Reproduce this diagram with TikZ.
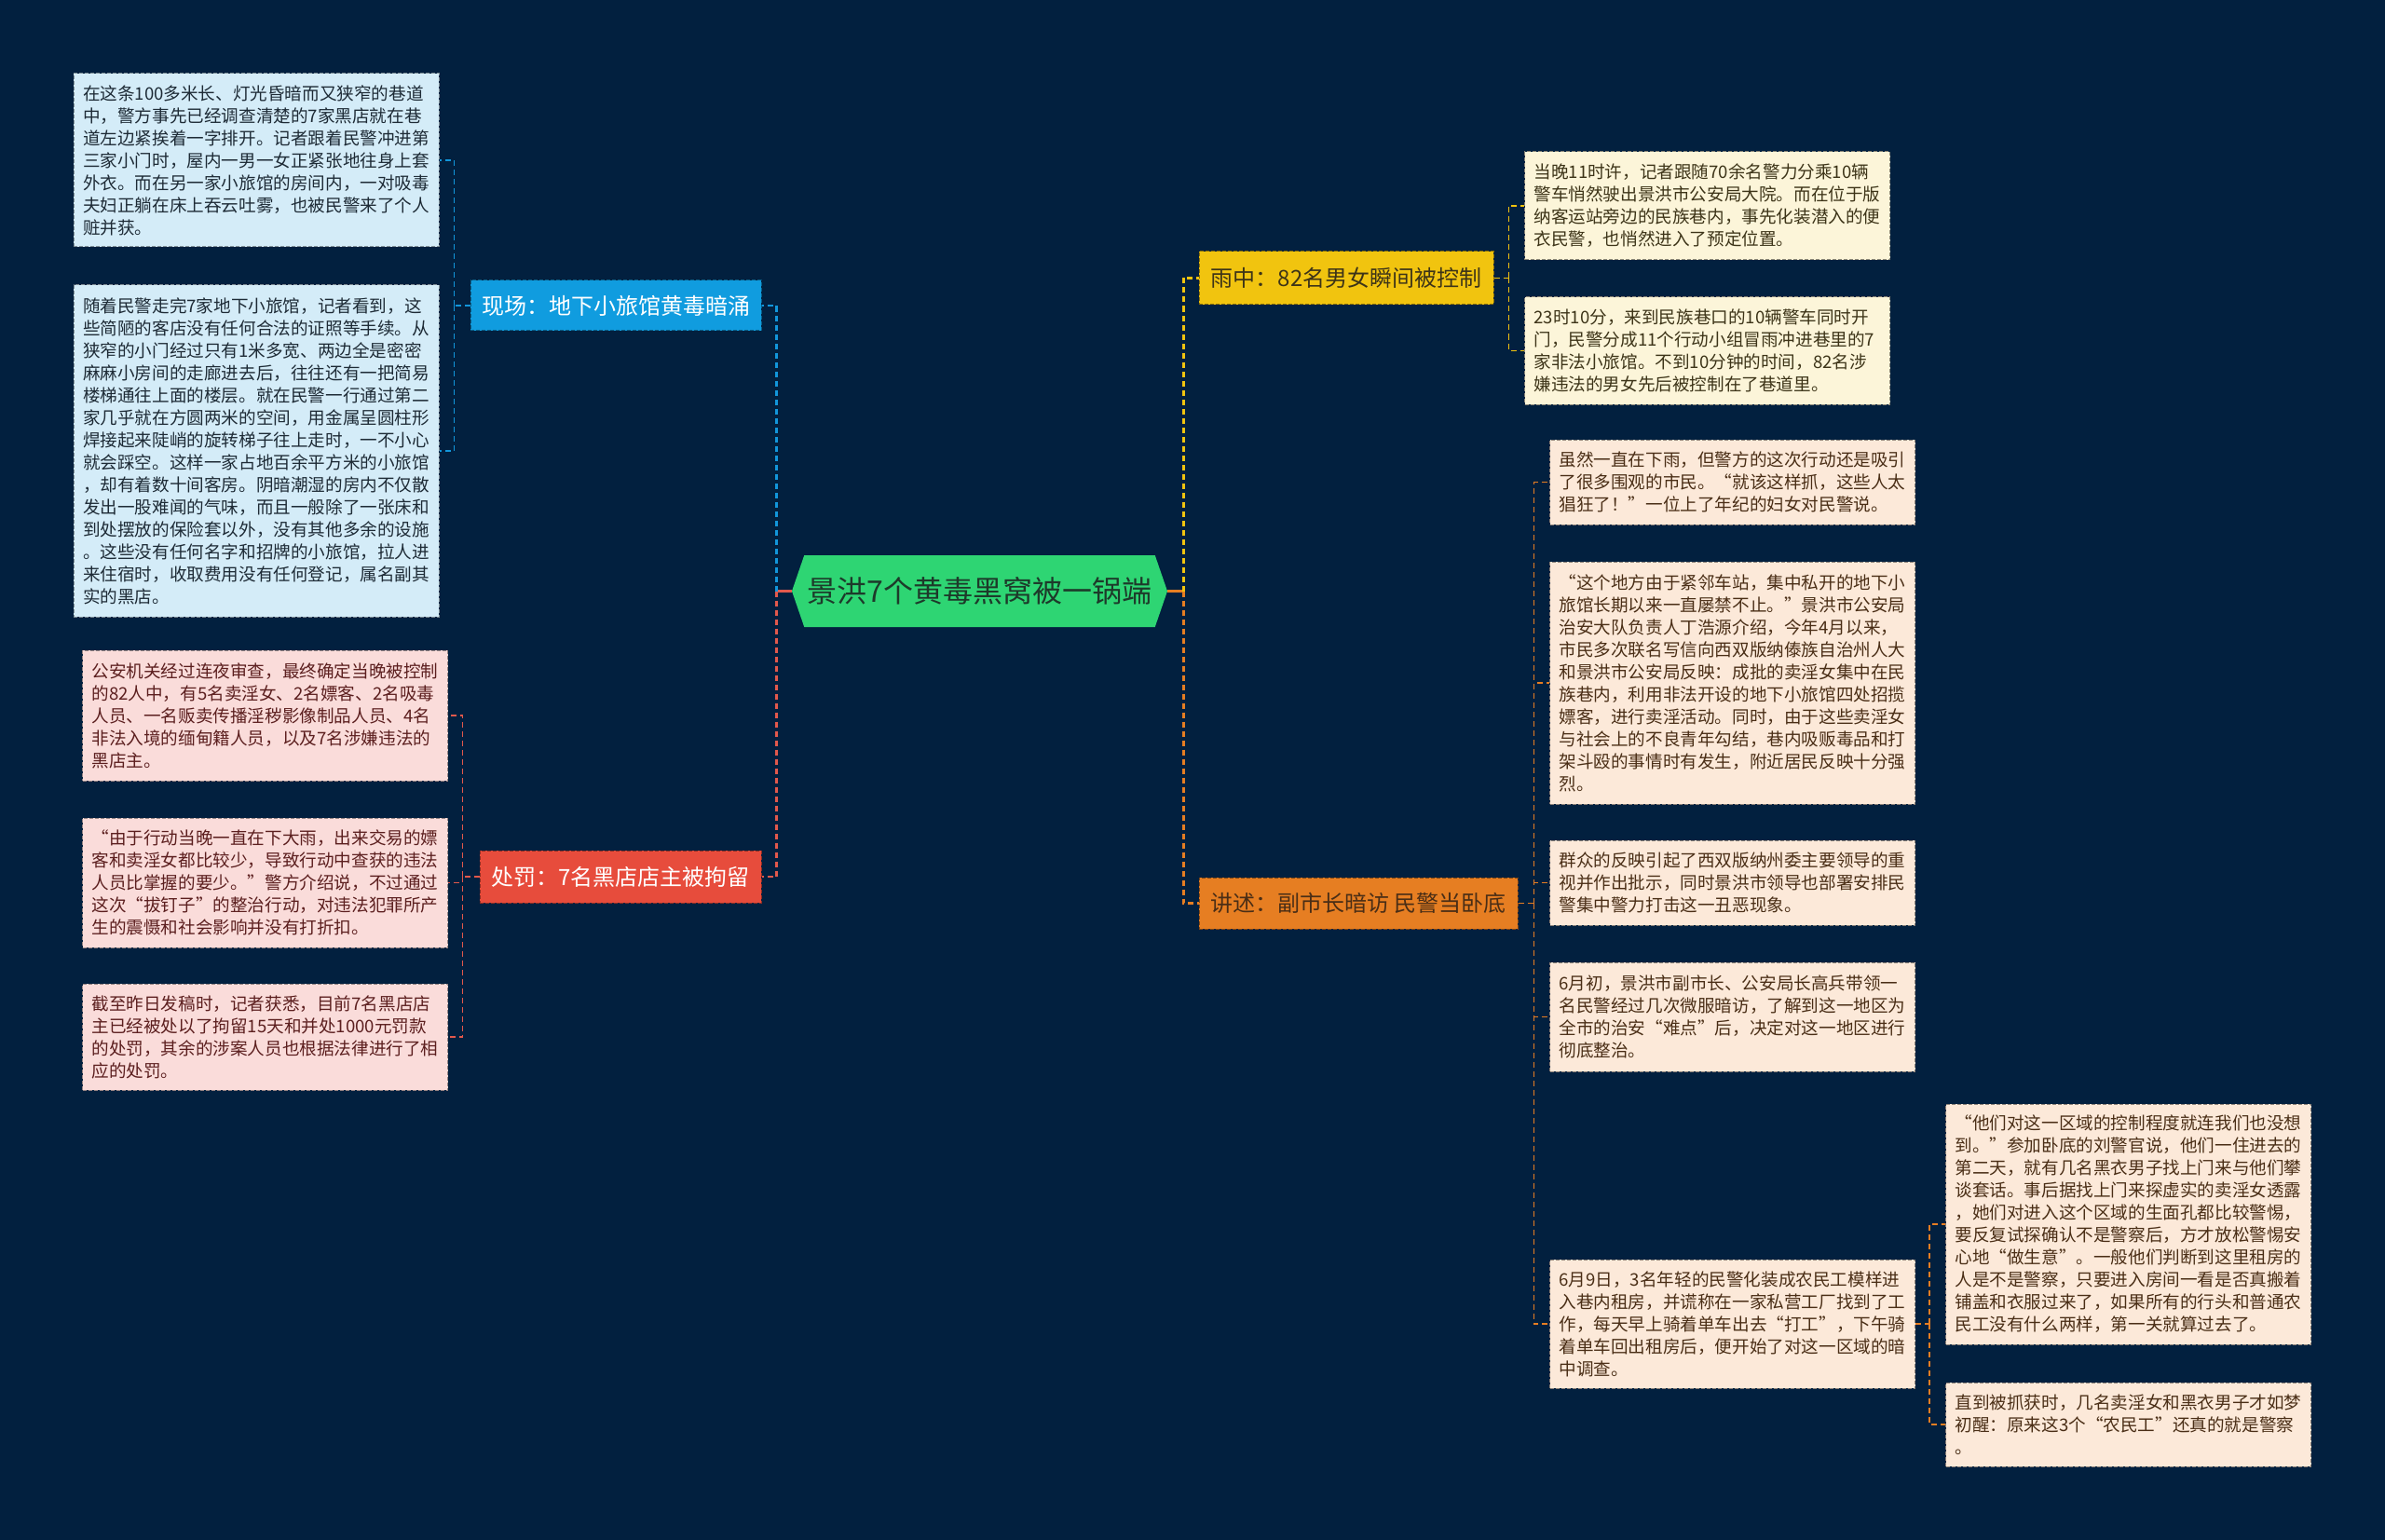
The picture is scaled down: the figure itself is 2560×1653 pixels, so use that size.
\documentclass[tikz,border=0pt]{standalone}
\usepackage{fontspec}
\usepackage{xcolor}
\usepackage{tikz}
\usetikzlibrary{positioning,shapes.symbols}
\newfontfamily\zhfont{Noto Sans CJK SC}
\definecolor{bgnavy}{HTML}{02203F}
\definecolor{fillhub}{HTML}{2ED573}
\definecolor{texthub}{HTML}{1D3A2A}
\definecolor{fillscene}{HTML}{109CDF}
\definecolor{fillpenalty}{HTML}{E74C3C}
\definecolor{fillrain}{HTML}{F1C40F}
\definecolor{fillstory}{HTML}{E67E22}
\definecolor{notescene}{HTML}{D4ECF8}
\definecolor{notepenalty}{HTML}{FADCDA}
\definecolor{noterain}{HTML}{FCF5D9}
\definecolor{notestory}{HTML}{FCE9D9}
\definecolor{textscene}{HTML}{1E2B36}
\definecolor{textpenalty}{HTML}{5C1F1F}
\definecolor{textrain}{HTML}{3D3418}
\definecolor{textstory}{HTML}{4A2E16}
\definecolor{linescene}{HTML}{1296DB}
\definecolor{linepenalty}{HTML}{E2594C}
\definecolor{linerain}{HTML}{F1C40F}
\definecolor{linestory}{HTML}{E67E22}
\tikzset{
  hub/.style={signal, signal to=east and west, signal pointer angle=142, fill=fillhub,
    text=texthub, inner sep=0pt, minimum width=201.5pt, minimum height=38.5pt,
    font=\zhfont\fontsize{16pt}{19pt}\selectfont},
  branch/.style={dash pattern=on 2pt off 1pt, line width=0.5pt, inner sep=0pt,
    font=\zhfont\fontsize{12pt}{14pt}\selectfont},
  notebox/.style={dash pattern=on 2pt off 1pt, line width=0.5pt, align=left,
    text width=186pt, inner xsep=5pt, inner ysep=0pt,
    font=\zhfont\fontsize{9.3pt}{12pt}\selectfont},
  hubline/.style={line width=1.2pt},
  link/.style={line width=1.2pt, dash pattern=on 3pt off 2pt},
  sublink/.style={line width=0.8pt, dash pattern=on 3pt off 2pt},
}

\begin{document}
\begin{tikzpicture}[x=0.5pt, y=-0.5pt]

\fill[bgnavy] (0,0) rectangle (2560,1653);
\useasboundingbox (0,0) rectangle (2560,1653);

%% centre topic
\node[hub] (hub) at (1051.5,634.5) {景洪7个黄毒黑窝被一锅端};

%% main branches
\node[branch, fill=fillscene, draw=fillscene!60!black, text=white, minimum width=156pt, minimum height=27pt] (scene) at (661,328) {现场：地下小旅馆黄毒暗涌};
\node[branch, fill=fillpenalty, draw=fillpenalty!60!black, text=white, minimum width=151pt, minimum height=28pt] (penalty) at (666,941) {处罚：7名黑店店主被拘留};
\node[branch, fill=fillrain, draw=fillrain!55!black, text=textrain, minimum width=158pt, minimum height=28.5pt] (rain) at (1445,298.5) {雨中：82名男女瞬间被控制};
\node[branch, fill=fillstory, draw=fillstory!55!black, text=textstory, minimum width=171pt, minimum height=27.5pt] (story) at (1458,969.5) {讲述：副市长暗访 民警当卧底};

%% =====================================================================
%% left: scene notes
%% =====================================================================
\node[notebox, fill=notescene, draw=notescene!60!black, text=textscene, minimum height=93pt] (scene1) at (275,172) {%
在这条100多米长、灯光昏暗而又狭窄的巷道\\
中，警方事先已经调查清楚的7家黑店就在巷\\
道左边紧挨着一字排开。记者跟着民警冲进第\\
三家小门时，屋内一男一女正紧张地往身上套\\
外衣。而在另一家小旅馆的房间内，一对吸毒\\
夫妇正躺在床上吞云吐雾，也被民警来了个人\\
赃并获。};
\node[notebox, fill=notescene, draw=notescene!60!black, text=textscene, minimum height=178pt, below=20pt of scene1] (scene2) {%
随着民警走完7家地下小旅馆，记者看到，这\\
些简陋的客店没有任何合法的证照等手续。从\\
狭窄的小门经过只有1米多宽、两边全是密密\\
麻麻小房间的走廊进去后，往往还有一把简易\\
楼梯通往上面的楼层。就在民警一行通过第二\\
家几乎就在方圆两米的空间，用金属呈圆柱形\\
焊接起来陡峭的旋转梯子往上走时，一不小心\\
就会踩空。这样一家占地百余平方米的小旅馆\\
，却有着数十间客房。阴暗潮湿的房内不仅散\\
发出一股难闻的气味，而且一般除了一张床和\\
到处摆放的保险套以外，没有其他多余的设施\\
。这些没有任何名字和招牌的小旅馆，拉人进\\
来住宿时，收取费用没有任何登记，属名副其\\
实的黑店。};

%% =====================================================================
%% left: penalty notes
%% =====================================================================
\node[notebox, fill=notepenalty, draw=notepenalty!60!black, text=textpenalty, minimum height=70pt] (penalty1) at (284.5,768) {%
公安机关经过连夜审查，最终确定当晚被控制\\
的82人中，有5名卖淫女、2名嫖客、2名吸毒\\
人员、一名贩卖传播淫秽影像制品人员、4名\\
非法入境的缅甸籍人员，以及7名涉嫌违法的\\
黑店主。};
\node[notebox, fill=notepenalty, draw=notepenalty!60!black, text=textpenalty, minimum height=69.5pt, below=19.5pt of penalty1] (penalty2) {%
“由于行动当晚一直在下大雨，出来交易的嫖\\
客和卖淫女都比较少，导致行动中查获的违法\\
人员比掌握的要少。”警方介绍说，不过通过\\
这次“拔钉子”的整治行动，对违法犯罪所产\\
生的震慑和社会影响并没有打折扣。};
\node[notebox, fill=notepenalty, draw=notepenalty!60!black, text=textpenalty, minimum height=57pt, below=19pt of penalty2] (penalty3) {%
截至昨日发稿时，记者获悉，目前7名黑店店\\
主已经被处以了拘留15天和并处1000元罚款\\
的处罚，其余的涉案人员也根据法律进行了相\\
应的处罚。};

%% =====================================================================
%% right: rain notes
%% =====================================================================
\node[notebox, fill=noterain, draw=noterain!55!black, text=textrain, minimum height=58pt] (rain1) at (1832.5,221) {%
当晚11时许，记者跟随70余名警力分乘10辆\\
警车悄然驶出景洪市公安局大院。而在位于版\\
纳客运站旁边的民族巷内，事先化装潜入的便\\
衣民警，也悄然进入了预定位置。};
\node[notebox, fill=noterain, draw=noterain!55!black, text=textrain, minimum height=57.5pt, below=19.5pt of rain1] (rain2) {%
23时10分，来到民族巷口的10辆警车同时开\\
门，民警分成11个行动小组冒雨冲进巷里的7\\
家非法小旅馆。不到10分钟的时间，82名涉\\
嫌违法的男女先后被控制在了巷道里。};

%% =====================================================================
%% right: story notes
%% =====================================================================
\node[notebox, fill=notestory, draw=notestory!55!black, text=textstory, minimum height=45.5pt] (story1) at (1859.5,517.5) {%
虽然一直在下雨，但警方的这次行动还是吸引\\
了很多围观的市民。“就该这样抓，这些人太\\
猖狂了！”一位上了年纪的妇女对民警说。};
\node[notebox, fill=notestory, draw=notestory!55!black, text=textstory, minimum height=130pt, below=19.5pt of story1] (story2) {%
“这个地方由于紧邻车站，集中私开的地下小\\
旅馆长期以来一直屡禁不止。”景洪市公安局\\
治安大队负责人丁浩源介绍，今年4月以来，\\
市民多次联名写信向西双版纳傣族自治州人大\\
和景洪市公安局反映：成批的卖淫女集中在民\\
族巷内，利用非法开设的地下小旅馆四处招揽\\
嫖客，进行卖淫活动。同时，由于这些卖淫女\\
与社会上的不良青年勾结，巷内吸贩毒品和打\\
架斗殴的事情时有发生，附近居民反映十分强\\
烈。};
\node[notebox, fill=notestory, draw=notestory!55!black, text=textstory, minimum height=45.5pt, below=19pt of story2] (story3) {%
群众的反映引起了西双版纳州委主要领导的重\\
视并作出批示，同时景洪市领导也部署安排民\\
警集中警力打击这一丑恶现象。};
\node[notebox, fill=notestory, draw=notestory!55!black, text=textstory, minimum height=58.5pt, below=19.5pt of story3] (story4) {%
6月初，景洪市副市长、公安局长高兵带领一\\
名民警经过几次微服暗访，了解到这一地区为\\
全市的治安“难点”后，决定对这一地区进行\\
彻底整治。};
\node[notebox, fill=notestory, draw=notestory!55!black, text=textstory, minimum height=69pt] (story5) at (1859.5,1421) {%
6月9日，3名年轻的民警化装成农民工模样进\\
入巷内租房，并谎称在一家私营工厂找到了工\\
作，每天早上骑着单车出去“打工”，下午骑\\
着单车回出租房后，便开始了对这一区域的暗\\
中调查。};
\node[notebox, fill=notestory, draw=notestory!55!black, text=textstory, minimum height=129pt] (story6) at (2284.5,1314) {%
“他们对这一区域的控制程度就连我们也没想\\
到。”参加卧底的刘警官说，他们一住进去的\\
第二天，就有几名黑衣男子找上门来与他们攀\\
谈套话。事后据找上门来探虚实的卖淫女透露\\
，她们对进入这个区域的生面孔都比较警惕，\\
要反复试探确认不是警察后，方才放松警惕安\\
心地“做生意”。一般他们判断到这里租房的\\
人是不是警察，只要进入房间一看是否真搬着\\
铺盖和衣服过来了，如果所有的行头和普通农\\
民工没有什么两样，第一关就算过去了。};
\node[notebox, fill=notestory, draw=notestory!55!black, text=textstory, minimum height=45pt, below=20pt of story6] (story7) {%
直到被抓获时，几名卖淫女和黑衣男子才如梦\\
初醒：原来这3个“农民工”还真的就是警察\\
。};

%% connectors from the centre
\draw[hubline, draw=linepenalty] (hub.west) -- ++(-16,0) coordinate (hubl);
\draw[link, draw=linescene] (hubl) |- (scene.east);
\draw[link, draw=linepenalty] (hubl) |- (penalty.east);
\draw[hubline, draw=linestory] (hub.east) -- ++(17,0) coordinate (hubr);
\draw[link, draw=linerain] (hubr) |- (rain.west);
\draw[link, draw=linestory] (hubr) |- (story.west);

%% connectors to the notes
\draw[sublink, draw=linescene] (scene.west) -- ++(-17,0) coordinate (scenej);
\draw[sublink, draw=linescene] (scenej) |- (scene1.east);
\draw[sublink, draw=linescene] (scenej) |- (scene2.east);

\draw[sublink, draw=linepenalty] (penalty.west) -- ++(-18,0) coordinate (penaltyj);
\draw[sublink, draw=linepenalty] (penaltyj) |- (penalty1.east);
\draw[sublink, draw=linepenalty] (penaltyj) |- (penalty2.east);
\draw[sublink, draw=linepenalty] (penaltyj) |- (penalty3.east);

\draw[sublink, draw=linerain] (rain.east) -- ++(16,0) coordinate (rainj);
\draw[sublink, draw=linerain] (rainj) |- (rain1.west);
\draw[sublink, draw=linerain] (rainj) |- (rain2.west);

\draw[sublink, draw=linestory] (story.east) -- ++(17,0) coordinate (storyj);
\draw[sublink, draw=linestory] (storyj) |- (story1.west);
\draw[sublink, draw=linestory] (storyj) |- (story2.west);
\draw[sublink, draw=linestory] (storyj) |- (story3.west);
\draw[sublink, draw=linestory] (storyj) |- (story4.west);
\draw[sublink, draw=linestory] (storyj) |- (story5.west);

\draw[sublink, draw=linestory] (story5.east) -- ++(15,0) coordinate (story5j);
\draw[sublink, draw=linestory] (story5j) |- (story6.west);
\draw[sublink, draw=linestory] (story5j) |- (story7.west);

\end{tikzpicture}
\end{document}
